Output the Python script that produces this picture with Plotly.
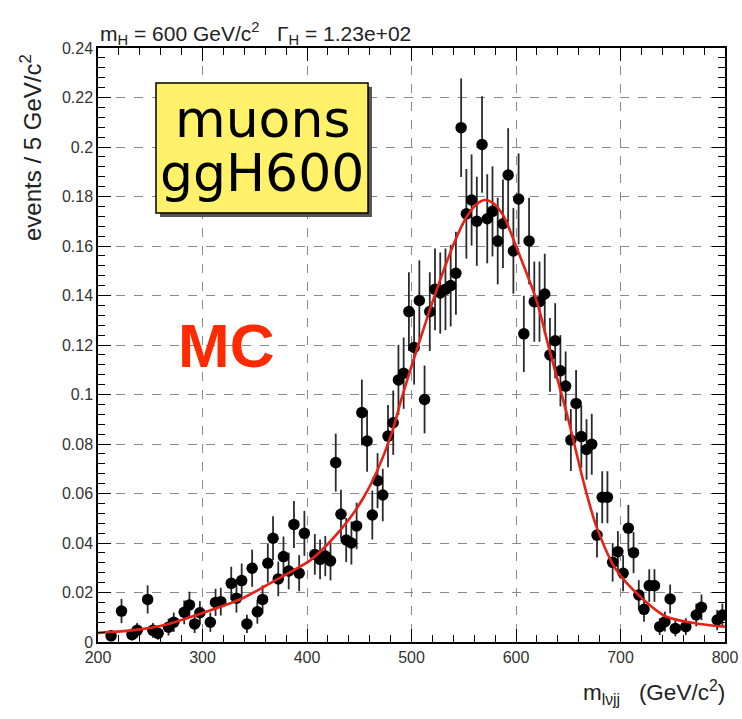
import plotly.graph_objects as go

# ---- data ----
bin_x = [212.5, 222.5, 232.5, 237.5, 247.5, 252.5, 257.5, 267.5, 272.5, 282.5,
         287.5, 292.5, 297.5, 307.5, 312.5, 317.5, 327.5, 332.5, 337.5, 342.5,
         347.5, 352.5, 357.5, 362.5, 367.5, 372.5, 377.5, 382.5, 387.5, 392.5,
         397.5, 407.5, 412.5, 417.5, 422.5, 427.5, 432.5, 437.5, 442.5, 447.5,
         452.5, 457.5, 462.5, 467.5, 472.5, 477.5, 482.5, 487.5, 492.5, 497.5,
         502.5, 507.5, 512.5, 517.5, 522.5, 527.5, 532.5, 537.5, 542.5, 547.5,
         552.5, 557.5, 562.5, 567.5, 572.5, 577.5, 582.5, 587.5, 592.5, 597.5,
         602.5, 607.5, 612.5, 617.5, 622.5, 627.5, 632.5, 637.5, 642.5, 647.5,
         652.5, 657.5, 662.5, 667.5, 672.5, 677.5, 682.5, 687.5, 692.5, 697.5,
         702.5, 707.5, 712.5, 717.5, 722.5, 727.5, 732.5, 737.5, 742.5, 747.5,
         752.5, 762.5, 772.5, 777.5, 792.5, 797.5]
events = [0.0025, 0.0125, 0.0030, 0.0047, 0.0172, 0.0047, 0.0035, 0.0060, 0.0080, 0.0120,
          0.0150, 0.0073, 0.0118, 0.0080, 0.0160, 0.0163, 0.0237, 0.0177, 0.0248, 0.0073,
          0.0298, 0.0122, 0.0172, 0.0318, 0.0419, 0.0255, 0.0345, 0.0287, 0.0475, 0.0278,
          0.0439, 0.0354, 0.0334, 0.0347, 0.0328, 0.0725, 0.0516, 0.0412, 0.0400, 0.0469,
          0.0927, 0.0812, 0.0513, 0.0652, 0.0594, 0.0832, 0.0886, 0.1059, 0.1086, 0.1335,
          0.1190, 0.1380, 0.0980, 0.1335, 0.1425, 0.1410, 0.1425, 0.1440, 0.1490, 0.2078,
          0.1730, 0.1786, 0.1700, 0.2010, 0.1710, 0.1740, 0.1620, 0.1690, 0.1887, 0.1580,
          0.1790, 0.1245, 0.1620, 0.1375, 0.1375, 0.1406, 0.1160, 0.1217, 0.1096, 0.1034,
          0.0816, 0.0964, 0.0830, 0.0778, 0.0799, 0.0432, 0.0585, 0.0585, 0.0322, 0.0365,
          0.0278, 0.0460, 0.0361, 0.0190, 0.0132, 0.0228, 0.0228, 0.0062, 0.0082, 0.0174,
          0.0055, 0.0062, 0.0109, 0.0140, 0.0089, 0.0109]
errors = [0.0022, 0.0049, 0.0024, 0.0030, 0.0057, 0.0030, 0.0026, 0.0034, 0.0039, 0.0048,
          0.0053, 0.0037, 0.0047, 0.0039, 0.0055, 0.0056, 0.0067, 0.0058, 0.0069, 0.0037,
          0.0075, 0.0048, 0.0057, 0.0078, 0.0089, 0.0070, 0.0081, 0.0074, 0.0095, 0.0073,
          0.0091, 0.0082, 0.0080, 0.0081, 0.0079, 0.0117, 0.0099, 0.0089, 0.0087, 0.0094,
          0.0133, 0.0124, 0.0099, 0.0111, 0.0106, 0.0126, 0.0130, 0.0142, 0.0144, 0.0159,
          0.0150, 0.0162, 0.0137, 0.0159, 0.0165, 0.0164, 0.0165, 0.0165, 0.0168, 0.0199,
          0.0181, 0.0184, 0.0180, 0.0195, 0.0180, 0.0182, 0.0175, 0.0179, 0.0189, 0.0173,
          0.0184, 0.0154, 0.0175, 0.0162, 0.0162, 0.0163, 0.0149, 0.0152, 0.0144, 0.0140,
          0.0125, 0.0135, 0.0126, 0.0122, 0.0123, 0.0091, 0.0105, 0.0105, 0.0078, 0.0083,
          0.0073, 0.0094, 0.0083, 0.0060, 0.0050, 0.0066, 0.0066, 0.0034, 0.0040, 0.0058,
          0.0032, 0.0034, 0.0046, 0.0052, 0.0041, 0.0046]

fit_x = [200, 230, 264, 302, 340, 370, 403, 422, 441, 455, 467, 481, 491, 506, 524,
         542, 552, 562, 570, 578, 588, 600, 620, 632, 650, 665, 677, 696, 719, 744, 776, 800]
fit_y = [0.0037, 0.0046, 0.0069, 0.0120, 0.0180, 0.0250, 0.0330, 0.0405, 0.0500, 0.0590,
         0.0690, 0.0843, 0.0991, 0.1193, 0.1422, 0.1624, 0.1712, 0.1768, 0.1786, 0.1774,
         0.1722, 0.1600, 0.1375, 0.1180, 0.0900, 0.0641, 0.0466, 0.0291, 0.0183, 0.0102,
         0.0073, 0.0062]

x_ticks = [200, 300, 400, 500, 600, 700, 800]
y_ticks = [0, 0.02, 0.04, 0.06, 0.08, 0.1, 0.12, 0.14, 0.16, 0.18, 0.2, 0.22, 0.24]
y_ticktext = ["0", "0.02", "0.04", "0.06", "0.08", "0.1", "0.12", "0.14", "0.16",
              "0.18", "0.2", "0.22", "0.24"]

FONT = "Liberation Sans, Arial, sans-serif"
W, H = 742, 719
ML, MR, MT, MB = 98, 17, 48, 77

fig = go.Figure()
fig.add_trace(go.Scatter(
    x=bin_x, y=events, mode="markers",
    marker=dict(color="black", size=11.5),
    error_y=dict(type="data", array=errors, visible=True, width=0,
                 thickness=1.8, color="#2a2a2a"),
    showlegend=False, hoverinfo="x+y"))
fig.add_trace(go.Scatter(
    x=fit_x, y=fit_y, mode="lines",
    line=dict(color="#E42218", width=2.6, shape="spline", smoothing=0.8),
    showlegend=False))

axis_common = dict(
    showline=True, linecolor="black", linewidth=1.5, mirror="allticks",
    ticks="inside", tickcolor="black", tickwidth=1, automargin=False,
    showgrid=True, gridcolor="#8a8a8a", gridwidth=1, griddash="dash",
    zeroline=False,
    tickfont=dict(family=FONT, size=16, color="#333333"),
)
fig.update_xaxes(range=[200, 800], tickvals=x_ticks, ticklen=13,
                 minor=dict(dtick=20, ticklen=7, ticks="inside", tickcolor="black", showgrid=False),
                 **axis_common)
fig.update_yaxes(range=[0, 0.24], tickvals=y_ticks, ticktext=y_ticktext, ticklen=13,
                 minor=dict(dtick=0.004, ticklen=7, ticks="inside", tickcolor="black", showgrid=False),
                 **axis_common)

# yellow label box with shadow
fig.add_shape(type="rect", xref="x", yref="y", x0=259.3, x1=462.2, y0=0.1717, y1=0.2243,
              fillcolor="#555555", line=dict(width=0), layer="above")
fig.add_shape(type="rect", xref="x", yref="y", x0=255.5, x1=458.4, y0=0.1733, y1=0.2259,
              fillcolor="#FFF16A", line=dict(color="black", width=1.5), layer="above")

fig.add_annotation(x=357, y=0.2115, xref="x", yref="y", text="muons", showarrow=False,
                   font=dict(family="DejaVu Sans", size=52, color="black"))
fig.add_annotation(x=357, y=0.1895, xref="x", yref="y", text="ggH600", showarrow=False,
                   font=dict(family="DejaVu Sans", size=52, color="black"))

# MC label (pixel centre ~ (226, 345))
fig.add_annotation(x=200 + (226 - ML) * 600 / (W - ML - MR), y=(642 - 345) / 2475,
                   xref="x", yref="y", text="<b>MC</b>", showarrow=False,
                   font=dict(family=FONT, size=62, color="#FF2A00"))

fig.update_layout(
    width=W, height=H,
    margin=dict(l=ML, r=MR, t=MT, b=MB),
    paper_bgcolor="white", plot_bgcolor="white",
    font=dict(family=FONT, color="#333333"),
)

# title
fig.add_annotation(x=0, y=1, xref="paper", yref="paper", xanchor="left", yanchor="bottom",
                   yshift=-2, xshift=0,
                   text="m<sub>H</sub> = 600 GeV/c<sup>2</sup>   Γ<sub>H</sub> = 1.23e+02",
                   showarrow=False, font=dict(family=FONT, size=21, color="#222222"))
# y axis title
fig.add_annotation(x=0, y=1, xref="paper", yref="paper", xanchor="center", yanchor="middle",
                   xshift=-(ML - 31), yshift=-(148 - MT),
                   text="events / 5 GeV/c<sup>2</sup>", textangle=-90, showarrow=False,
                   font=dict(family=FONT, size=24, color="#222222"))
# x axis title
fig.add_annotation(x=1, y=0, xref="paper", yref="paper", xanchor="right", yanchor="top",
                   yshift=-33, xshift=2,
                   text="m<sub>lνjj</sub>   (GeV/c<sup>2</sup>)", showarrow=False,
                   font=dict(family=FONT, size=22.5, color="#222222"))

fig.write_html("out.html")
